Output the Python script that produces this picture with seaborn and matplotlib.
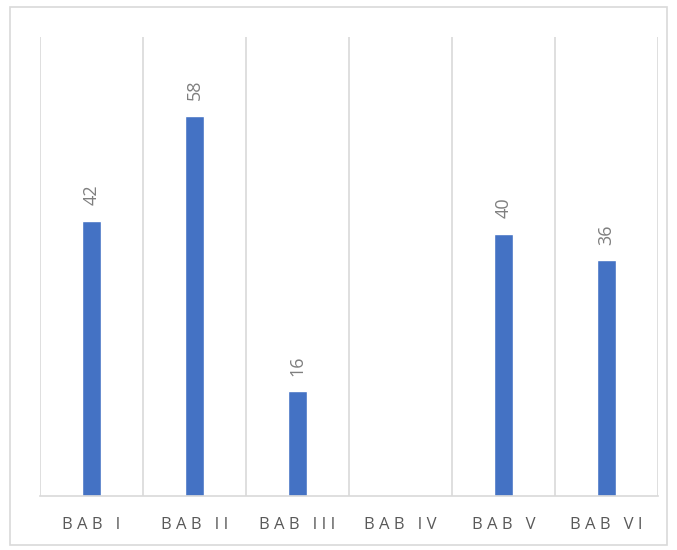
import numpy as np
import pandas as pd
import matplotlib
matplotlib.use("Agg")
import matplotlib.pyplot as plt
import seaborn as sns
from matplotlib.patches import Rectangle

# chart data
categories = ["BAB I", "BAB II", "BAB III", "BAB IV", "BAB V", "BAB VI"]
values = [42, 58, 16, np.nan, 40, 36]

sns.set_style("white")
plt.rcParams["font.family"] = ["Open Sans", "DejaVu Sans"]

df = pd.DataFrame({"bab": categories, "jumlah": values})

fig = plt.figure(figsize=(6.77, 5.5), dpi=100)
ax = fig.add_axes([40 / 677, 54 / 550, 618 / 677, 459 / 550])

sns.barplot(data=df, x="bab", y="jumlah", color="#4472C4", saturation=1,
            width=0.19, ax=ax)

# value labels, rotated like the original
for i, v in enumerate(values):
    if np.isnan(v):
        continue
    ax.annotate(f"{int(v)}", (i, v), xytext=(0, 11), textcoords="offset points",
                rotation=90, ha="center", va="bottom", color="#7F7F7F", fontsize=13)

# vertical gridlines between categories
n = len(categories)
ax.set_xticks(np.arange(-0.5, n, 1), minor=True)
ax.grid(which="minor", axis="x", color="#D9D9D9", linewidth=1.2)
ax.tick_params(which="both", length=0)
ax.set_xlim(-0.5, n - 0.5)
ax.set_ylim(0, 70)
ax.set_yticks([])
ax.set_xlabel("")
ax.set_ylabel("")
ax.set_xticks(range(n))
ax.set_xticklabels([" ".join(c) for c in categories], color="#595959", fontsize=12)
ax.tick_params(axis="x", pad=15)

for side in ["top", "right", "left"]:
    ax.spines[side].set_visible(False)
ax.spines["bottom"].set_color("#D9D9D9")
ax.spines["bottom"].set_linewidth(1.2)

# outer chart border
fig.patches.append(Rectangle((10 / 677, 5 / 550), 657 / 677, 538 / 550,
                             transform=fig.transFigure, fill=False,
                             edgecolor="#D9D9D9", linewidth=1.2))

fig.savefig("out.png", dpi=100)
